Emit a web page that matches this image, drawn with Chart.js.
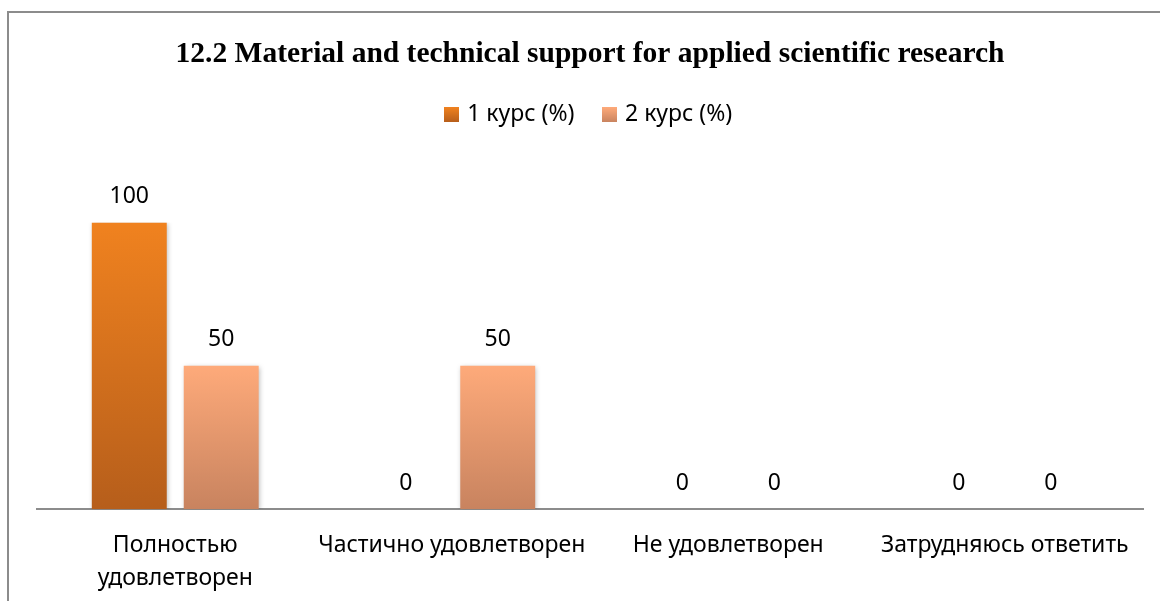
<!DOCTYPE html>
<html><head><meta charset="utf-8">
<script src="https://cdn.jsdelivr.net/npm/chart.js@4.4.1/dist/chart.umd.min.js"></script>
<style>
html,body{margin:0;padding:0;background:#fff;overflow:hidden;width:1160px;height:601px}
#wrap{position:absolute;left:7px;top:11px;width:1180px;height:640px;border-left:2px solid #8c8c8c;border-top:2px solid #8c8c8c}
#box{position:absolute;left:0;top:0;width:1162px;height:602px}
</style></head><body>
<div id="wrap"><div id="box"><canvas id="c"></canvas></div></div>
<script>
const titleText = '12.2 Material and technical support for applied scientific research';
const categories = [['Полностью','удовлетворен'], 'Частично удовлетворен', 'Не удовлетворен', 'Затрудняюсь ответить'];
const seriesNames = ['1 курс (%)', '2 курс (%)'];
const course1 = [100, 0, 0, 0];
const course2 = [50, 50, 0, 0];
const colorsTop = ['#F0821F', '#FEAA7A'];
const colorsBottom = ['#B65E1B', '#C8835F'];

const FONT = '"Noto Sans", "DejaVu Sans", sans-serif';
const FS = 23;

function grad(i){
  return (ctx) => {
    const chart = ctx.chart, area = chart.chartArea;
    if (!area || ctx.type !== 'data' || !chart.scales.y) return colorsTop[i];
    const y = chart.scales.y;
    const y0 = y.getPixelForValue(ctx.parsed.y), y1 = y.getPixelForValue(0);
    if (y1 - y0 < 1) return colorsTop[i];
    const g = chart.ctx.createLinearGradient(0, y0, 0, y1);
    g.addColorStop(0, colorsTop[i]); g.addColorStop(1, colorsBottom[i]);
    return g;
  };
}
function icon(i){
  const c = document.createElement('canvas'); c.width = 15; c.height = 15;
  const x = c.getContext('2d');
  const g = x.createLinearGradient(0,0,0,15);
  g.addColorStop(0, colorsTop[i]); g.addColorStop(1, colorsBottom[i]);
  x.fillStyle = g; x.fillRect(0,0,15,15);
  return c;
}
const icons = [icon(0), icon(1)];

const legendSpace = {
  id: 'legendSpace',
  beforeInit(chart){
    const fit = chart.legend.fit;
    chart.legend.fit = function(){ fit.call(this); this.height += 86; };
  }
};
const valueLabels = {
  id: 'valueLabels',
  beforeDatasetsDraw(chart){
    const c = chart.ctx; c.save();
    c.shadowColor = 'rgba(0,0,0,0.28)'; c.shadowBlur = 5; c.shadowOffsetX = 1; c.shadowOffsetY = 1;
  },
  afterDatasetsDraw(chart){
    const c = chart.ctx; c.restore(); c.save();
    c.font = FS + 'px ' + FONT; c.fillStyle = '#000'; c.textAlign = 'center'; c.textBaseline = 'middle';
    chart.data.datasets.forEach((ds, di) => {
      chart.getDatasetMeta(di).data.forEach((el, i) => {
        c.fillText(String(ds.data[i]), el.x, el.y - 26);
      });
    });
    c.restore();
  }
};

new Chart(document.getElementById('c'), {
  type: 'bar',
  data: {
    labels: categories,
    datasets: [
      { label: seriesNames[0], data: course1, backgroundColor: grad(0), borderWidth: 0 },
      { label: seriesNames[1], data: course2, backgroundColor: grad(1), borderWidth: 0 }
    ]
  },
  options: {
    responsive: true, maintainAspectRatio: false, animation: false,
    datasets: { bar: { categoryPercentage: 0.665, barPercentage: 0.815 } },
    layout: { padding: { left: 28, right: 28, top: 0, bottom: 8 } },
    plugins: {
      tooltip: { enabled: false },
      title: { display: true, text: titleText, color: '#000',
        font: { family: '"Liberation Serif", "Times New Roman", serif', size: 29.5, weight: 'bold', lineHeight: 1.2 },
        padding: { top: 24, bottom: 0 } },
      legend: { display: true, position: 'top',
        labels: { color: '#000', font: { family: FONT, size: FS }, boxWidth: 15, boxHeight: 15, padding: 31,
          usePointStyle: true, pointStyleWidth: 8,
          generateLabels(chart){
            const items = Chart.defaults.plugins.legend.labels.generateLabels(chart);
            items.forEach((it, i) => { it.pointStyle = icons[i]; it.lineWidth = 0; it.strokeStyle = 'rgba(0,0,0,0)'; });
            return items;
          } } }
    },
    scales: {
      x: { grid: { display: false }, border: { display: true, color: '#8c8c8c', width: 2 },
        ticks: { color: '#000', font: { family: FONT, size: FS, lineHeight: 1.43 }, padding: 12, maxRotation: 0, autoSkip: false } },
      y: { display: false, min: 0, max: 100 }
    }
  },
  plugins: [legendSpace, valueLabels]
});
</script>
</body></html>
